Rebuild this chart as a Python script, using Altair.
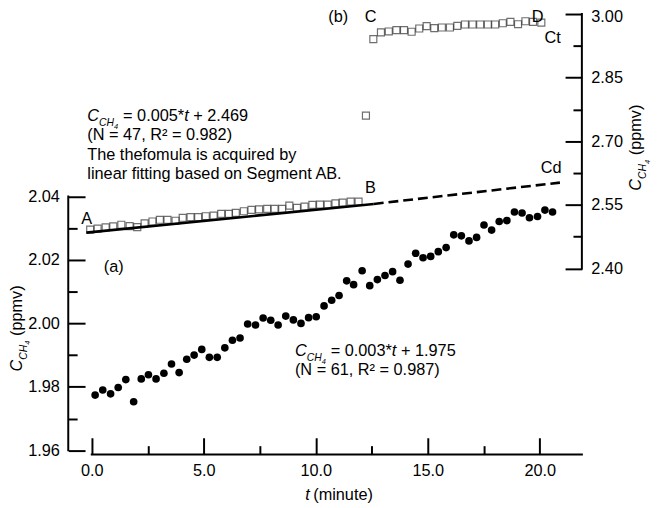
import altair as alt
import pandas as pd

FONT = "Liberation Sans"
FS = 16.5

# ---------------- data ----------------
# (a) closed circles, left axis
dots_t = [0.15, 0.49, 0.84, 1.18, 1.52, 1.87, 2.21, 2.53, 2.87, 3.22, 3.56, 3.90,
          4.24, 4.57, 4.91, 5.25, 5.60, 5.94, 6.28, 6.62, 6.96, 7.31, 7.65, 7.99,
          8.32, 8.66, 9.00, 9.34, 9.68, 10.02, 10.37, 10.71, 11.04, 11.38, 11.69,
          12.07, 12.41, 12.75, 13.09, 13.43, 13.76, 14.12, 14.46, 14.79, 15.13,
          15.47, 15.82, 16.16, 16.50, 16.84, 17.18, 17.51, 17.85, 18.19, 18.53,
          18.87, 19.21, 19.54, 19.90, 20.23, 20.57]
dots_v = [1.9774, 1.9790, 1.9778, 1.9798, 1.9823, 1.9753, 1.9825, 1.9838, 1.9825,
          1.9843, 1.9872, 1.9845, 1.9887, 1.9900, 1.9918, 1.9893, 1.9893, 1.9923,
          1.9947, 1.9954, 1.9998, 1.9995, 2.0017, 2.0010, 1.9995, 2.0023, 2.0011,
          2.0000, 2.0018, 2.0021, 2.0055, 2.0073, 2.0088, 2.0134, 2.0122, 2.0166,
          2.0119, 2.0138, 2.0151, 2.0163, 2.0136, 2.0187, 2.0221, 2.0207, 2.0211,
          2.0226, 2.0239, 2.0279, 2.0276, 2.0260, 2.0271, 2.0310, 2.0294, 2.0321,
          2.0324, 2.0351, 2.0348, 2.0333, 2.0337, 2.0357, 2.0351]
# (b) open squares, right axis: segment AB
ab_t = [-0.07, 0.26, 0.62, 0.96, 1.32, 1.69, 2.03, 2.36, 2.71, 3.04, 3.38, 3.74,
        4.06, 4.41, 4.75, 5.09, 5.44, 5.78, 6.12, 6.43, 6.79, 7.13, 7.47, 7.83,
        8.16, 8.50, 8.82, 9.16, 9.50, 9.85, 10.19, 10.53, 10.88, 11.20, 11.56, 11.91]
ab_v = [2.4917, 2.4940, 2.4970, 2.4994, 2.5033, 2.5001, 2.4977, 2.5064, 2.5110,
        2.5150, 2.5150, 2.5127, 2.5197, 2.5211, 2.5211, 2.5234, 2.5250, 2.5290,
        2.5290, 2.5313, 2.5351, 2.5383, 2.5397, 2.5407, 2.5407, 2.5407, 2.5484,
        2.5430, 2.5460, 2.5500, 2.5507, 2.5507, 2.5537, 2.5554, 2.5577, 2.5577]
# (b) open squares, right axis: jump and segment CD
cd_t = [12.24, 12.57, 12.91, 13.26, 13.60, 13.94, 14.28, 14.62, 14.95, 15.29,
        15.63, 15.99, 16.32, 16.66, 17.00, 17.34, 17.68, 18.01, 18.35, 18.69,
        19.03, 19.36, 19.70, 20.07]
cd_v = [2.7607, 2.9410, 2.9566, 2.9589, 2.9620, 2.9620, 2.9582, 2.9659, 2.9713,
        2.9666, 2.9683, 2.9683, 2.9722, 2.9753, 2.9753, 2.9753, 2.9753, 2.9753,
        2.9783, 2.9816, 2.9760, 2.9830, 2.9816, 2.9799]
# linear fit of AB and its extension to Cd
fit_t = [-0.24, 12.59]
fit_v = [2.4847, 2.5523]
ext_t = [12.59, 20.90]
ext_v = [2.5523, 2.6026]

# axes
x_ticks = [0, 2.5, 5, 7.5, 10, 12.5, 15, 17.5, 20]
yl_ticks = [1.96, 1.97, 1.98, 1.99, 2.00, 2.01, 2.02, 2.03, 2.04]
yr_ticks = [2.40, 2.475, 2.55, 2.625, 2.70, 2.775, 2.85, 2.925, 3.00]
x_span = [0, 21.88]
yl_span = [1.96, 2.04]
yr_span = [2.40, 3.00]

# point labels (placed on the right-axis scale)
lab_text = ["A", "B", "(b)", "C", "D", "Ct", "Cd", "(a)"]
lab_t = [-0.225, 12.445, 11.0, 12.445, 19.91, 20.58, 20.51, 0.98]
lab_v = [2.5050, 2.5772, 2.9814, 2.9814, 2.9807, 2.9309, 2.6252, 2.3923]

# formula anchors
fb_t, fb_v = [-0.20], [2.7485]   # right axis
fa_t, fa_v = [9.07], [1.9898]    # left axis

# ---------------- layout ----------------
W, H = 520, 446
X_DOM = [-1.05, 21.88]
YL_DOM = [1.958661, 2.097494]
YR_DOM = [1.96158, 3.0]
xs = alt.Scale(domain=X_DOM, nice=False, zero=False)
yls = alt.Scale(domain=YL_DOM, nice=False, zero=False)
yrs = alt.Scale(domain=YR_DOM, nice=False, zero=False)

common = dict(domain=False, grid=False, tickColor="black", tickWidth=2,
              labelFont=FONT, labelFontSize=FS, labelColor="black",
              labelOverlap=False, labelFlush=False, title=None)

x_axis = alt.Axis(values=x_ticks, orient="bottom",
                  labelExpr="round(datum.value*10) % 50 == 0 ? format(datum.value, '.1f') : ''",
                  tickSize={"expr": "round(datum.value*10) % 50 == 0 ? -17 : -9"},
                  labelPadding=25, **common)
yl_axis = alt.Axis(values=yl_ticks, orient="left",
                   labelExpr="round(datum.value*100) % 2 == 0 ? format(datum.value, '.2f') : ''",
                   tickSize={"expr": "round(datum.value*100) % 2 == 0 ? -17 : -9"},
                   labelPadding=26, **common)
yr_axis = alt.Axis(values=yr_ticks, orient="right",
                   labelExpr="round(datum.value*1000) % 150 == 0 ? format(datum.value, '.2f') : ''",
                   tickSize={"expr": "round(datum.value*1000) % 150 == 0 ? -17 : -9"},
                   labelOffset={"expr": "datum.value >= 2.999 ? 3 : 0"},
                   labelPadding=26, **common)


def X(field="t:Q"):
    # every layer carries the identical x axis so the shared axis merges cleanly
    return alt.X(field, scale=xs, axis=x_axis)


dots = alt.Chart(pd.DataFrame({"t": dots_t, "v": dots_v})).mark_circle(
    size=60, color="black", opacity=1).encode(
    x=X(), y=alt.Y("v:Q", scale=yls, axis=yl_axis))

squares = alt.Chart(pd.DataFrame({"t": ab_t + cd_t, "v": ab_v + cd_v})).mark_square(
    size=50, filled=False, color="#333333", strokeWidth=1.2).encode(
    x=X(), y=alt.Y("v:Q", scale=yrs, axis=yr_axis))

fit = alt.Chart(pd.DataFrame({"t": fit_t, "v": fit_v})).mark_line(
    color="black", strokeWidth=2.6).encode(x=X(), y=alt.Y("v:Q", scale=yrs, axis=None))

ext = alt.Chart(pd.DataFrame({"t": ext_t, "v": ext_v})).mark_line(
    color="black", strokeWidth=2.6, strokeDash=[10, 5]).encode(
    x=X(), y=alt.Y("v:Q", scale=yrs, axis=None))

x_line = alt.Chart(pd.DataFrame({"t": [x_span[0]], "b": [x_span[1]]})).mark_rule(
    color="black", strokeWidth=2, strokeCap="square").encode(
    x=X(), x2="b:Q", y=alt.value(H))
yl_line = alt.Chart(pd.DataFrame({"a": [yl_span[0]], "b": [yl_span[1]]})).mark_rule(
    color="black", strokeWidth=2, strokeCap="square").encode(
    x=alt.value(0), y=alt.Y("a:Q", scale=yls, axis=None), y2="b:Q")
yr_line = alt.Chart(pd.DataFrame({"a": [yr_span[0]], "b": [yr_span[1]]})).mark_rule(
    color="black", strokeWidth=2, strokeCap="square").encode(
    x=alt.value(W), y=alt.Y("a:Q", scale=yrs, axis=None), y2="b:Q")

labels = alt.Chart(pd.DataFrame({"t": lab_t, "v": lab_v, "s": lab_text})).mark_text(
    font=FONT, fontSize=FS, align="center", baseline="alphabetic", color="black").encode(
    x=X(), y=alt.Y("v:Q", scale=yrs, axis=None), text="s:N")


def pieces(df, yscale, parts, angle=0, xv=None, yv=None):
    out = []
    for s, dx, dy, size, italic in parts:
        m = alt.Chart(df).mark_text(
            text=s, font=FONT, fontSize=size,
            fontStyle="italic" if italic else "normal",
            align="left", baseline="alphabetic", dx=dx, dy=dy, angle=angle, color="black")
        if xv is None:
            out.append(m.encode(x=X(), y=alt.Y("v:Q", scale=yscale, axis=None)))
        else:
            out.append(m.encode(x=alt.value(xv), y=alt.value(yv)))
    return out


CCH4 = [("C", 0, 0, FS, True), ("CH", 11.9, 5, 10.5, True), ("4", 27.1, 8.5, 7.5, True)]

formula_b = pieces(pd.DataFrame({"t": fb_t, "v": fb_v}), yrs, CCH4 + [
    ("= 0.005*", 36.2, 0, FS, False), ("t", 98.1, 0, FS, True), ("+ 2.469", 107.3, 0, FS, False),
    ("(N = 47, R\u00b2 = 0.982)", 0, 19.5, FS, False),
    ("The thefomula is acquired by", 0, 39.3, FS, False),
    ("linear fitting based on Segment AB.", 0, 59, FS, False)])

formula_a = pieces(pd.DataFrame({"t": fa_t, "v": fa_v}), yls, CCH4 + [
    ("= 0.003*", 36.2, 0, FS, False), ("t", 98.1, 0, FS, True), ("+ 1.975", 107.3, 0, FS, False),
    ("(N = 61, R\u00b2 = 0.987)", 0, 19.5, FS, False)])

one = pd.DataFrame({"k": [0]})
title_parts = CCH4 + [("(ppmv)", 36, 0, FS, False)]
left_title = pieces(one, None, title_parts, angle=270, xv=-47, yv=362)
right_title = pieces(one, None, title_parts, angle=270, xv=W + 60, yv=179)
x_title = pieces(one, None, [("t", 0, 0, FS, True), ("(minute)", 8, 0, FS, False)],
                 xv=240, yv=H + 46.5)

chart = alt.layer(
    dots, squares, fit, ext, x_line, yl_line, yr_line, labels,
    *formula_b, *formula_a, *left_title, *right_title, *x_title
).resolve_scale(y="independent").properties(
    width=W, height=H,
    autosize=alt.AutoSizeParams(type="none"),
    padding={"left": 61, "top": 3, "right": 71, "bottom": 51},
    background="white",
).configure_view(stroke=None)

chart.save("out.html", embed_options={"renderer": "svg", "actions": False})
